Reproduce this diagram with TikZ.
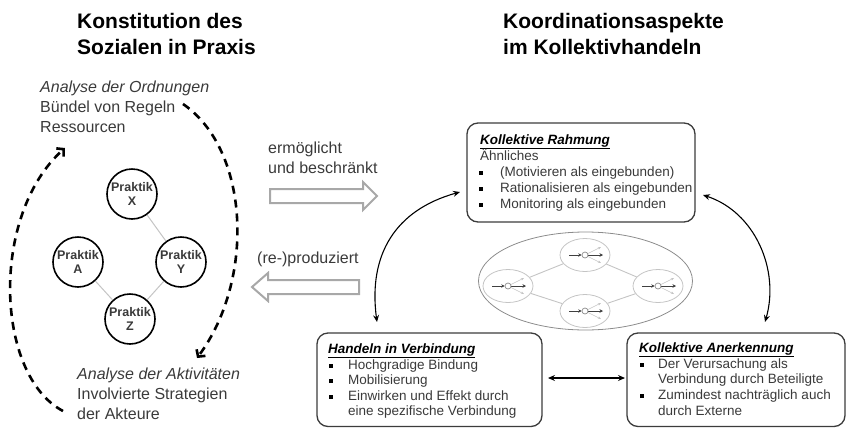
\documentclass[tikz,border=0pt]{standalone}
\usepackage{fontspec}
\setmainfont{Liberation Sans}
\usetikzlibrary{arrows.meta,shapes.geometric}
\definecolor{txt}{HTML}{3A3A3A}
\definecolor{boxline}{HTML}{3C3C3C}
\definecolor{arrgray}{HTML}{A8A8A8}
\definecolor{netgray}{HTML}{8C8C8C}
\definecolor{netlight}{HTML}{C4C4C4}
\begin{document}
\begin{tikzpicture}[x=1pt,y=-1pt,
  title/.style={anchor=base west, inner sep=0, text=black, font=\fontsize{21}{25}\selectfont\bfseries},
  body/.style={anchor=base west, inner sep=0, text=txt, font=\fontsize{16}{20}\selectfont},
  bodyit/.style={body, font=\fontsize{16}{20}\selectfont\itshape},
  btxt/.style={anchor=base west, inner sep=0, text=txt, font=\fontsize{13.5}{16}\selectfont},
  btitle/.style={anchor=base west, inner sep=0, text=black, font=\fontsize{13.5}{16}\selectfont\bfseries\itshape},
  bul/.style={anchor=base, inner sep=0, text=black},
  praktik/.style={circle, draw=black, line width=1.6pt, minimum size=50pt, inner sep=0pt, align=center, text=txt, font=\fontsize{12.5}{14}\selectfont\bfseries},
  rbox/.style={draw=boxline, line width=1.3pt, rounded corners=11pt, fill=white},
  dasharc/.style={line width=2.6pt, dash pattern=on 8pt off 6pt, -{Straight Barb[length=5pt,width=11pt]}},
  blockarrow/.style={draw=arrgray, line width=2pt, fill=white, line join=miter},
  link/.style={line width=1.1pt, {Stealth[length=7pt,width=6pt,inset=2.5pt]}-{Stealth[length=7pt,width=6pt,inset=2.5pt]}},
  smallell/.style={ellipse, draw=netlight, line width=0.8pt, minimum width=50pt, minimum height=33pt, inner sep=0pt}
]
\useasboundingbox (0,0) rectangle (849,429);

% titles
\node[title] (t1a) at (77,28) {Konstitution des};
\node[title] (t1b) at (77,54) {Sozialen in Praxis};
\node[title] (t2a) at (503,28) {Koordinationsaspekte};
\node[title] (t2b) at (503,54) {im Kollektivhandeln};

% left texts
\node[bodyit] (o1) at (40,92) {Analyse der Ordnungen};
\node[body] (o2) at (40,112) {Bündel von Regeln};
\node[body] (o3) at (40,132) {Ressourcen};
\node[bodyit] (a1) at (77,379) {Analyse der Aktivitäten};
\node[body] (a2) at (77,399) {Involvierte Strategien};
\node[body] (a3) at (77,419) {der Akteure};

% dashed arcs
\draw[dasharc] (63,411) .. controls (-5,375) and (-10,215) .. (65,148);
\draw[dasharc] (183,104) .. controls (250,150) and (255,280) .. (197,358);

% Praktik circles
\node[praktik] (px) at (132,194) {Praktik\\X};
\node[praktik] (pa) at (78,262) {Praktik\\A};
\node[praktik] (py) at (181,262) {Praktik\\Y};
\node[praktik] (pz) at (130,319) {Praktik\\Z};
\draw[netlight, line width=1pt] (px) -- (py);
\draw[netlight, line width=1pt] (pa) -- (pz);
\draw[netlight, line width=1pt] (py) -- (pz);

% middle labels and block arrows
\node[body] (m1) at (268,153) {ermöglicht};
\node[body] (m2) at (268,173) {und beschränkt};
\node[body] (m3) at (257,263) {(re-)produziert};
\draw[blockarrow] (270,189) -- (363,189) -- (363,182) -- (377,196) -- (363,210) -- (363,203) -- (270,203) -- cycle;
\draw[blockarrow] (359,280) -- (268,280) -- (268,273) -- (252,287) -- (268,301) -- (268,294) -- (359,294) -- cycle;

% boxes
\draw[rbox] (467,123) rectangle (695,222);
\node[inner sep=0, minimum width=228pt, minimum height=99pt] (rahm) at (581,172.5) {};
\draw[rbox] (317,333) rectangle (542,426.5);
\node[inner sep=0, minimum width=225pt, minimum height=93pt] (hand) at (429.5,380) {};
\draw[rbox] (627,333) rectangle (845,426.5);
\node[inner sep=0, minimum width=218pt, minimum height=93pt] (aner) at (736,380) {};

% Rahmung text
\node[btitle] (r0) at (480,144) {\underline{Kollektive Rahmung}};
\node[btxt] (r1) at (480,160) {Ähnliches};
\node[bul] (rb2) at (481,176) {\rule[1.5pt]{4pt}{4pt}};
\node[btxt] (r2) at (500,176) {(Motivieren als eingebunden)};
\node[bul] (rb3) at (481,192) {\rule[1.5pt]{4pt}{4pt}};
\node[btxt] (r3) at (500,192) {Rationalisieren als eingebunden};
\node[bul] (rb4) at (481,208) {\rule[1.5pt]{4pt}{4pt}};
\node[btxt] (r4) at (500,208) {Monitoring als eingebunden};

% Handeln text
\node[btitle] (h0) at (328,353) {\underline{Handeln in Verbindung}};
\node[bul] (hb1) at (331,369) {\rule[1.5pt]{4pt}{4pt}};
\node[btxt] (h1) at (348,369) {Hochgradige Bindung};
\node[bul] (hb2) at (331,384.5) {\rule[1.5pt]{4pt}{4pt}};
\node[btxt] (h2) at (348,384.5) {Mobilisierung};
\node[bul] (hb3) at (331,400) {\rule[1.5pt]{4pt}{4pt}};
\node[btxt] (h3) at (348,400) {Einwirken und Effekt durch};
\node[btxt] (h4) at (348,415.5) {eine spezifische Verbindung};

% Anerkennung text
\node[btitle] (k0) at (639,352) {\underline{Kollektive Anerkennung}};
\node[bul] (kb1) at (642,368) {\rule[1.5pt]{4pt}{4pt}};
\node[btxt] (k1) at (658,368) {Der Verursachung als};
\node[btxt] (k2) at (658,383.5) {Verbindung durch Beteiligte};
\node[bul] (kb3) at (642,399.5) {\rule[1.5pt]{4pt}{4pt}};
\node[btxt] (k3) at (658,399.5) {Zumindest nachträglich auch};
\node[btxt] (k4) at (658,415) {durch Externe};

% network ellipse
\node[ellipse, draw=netgray, line width=0.8pt, minimum width=214pt, minimum height=98pt] (net) at (585.5,281) {};
\node[smallell] (nl) at (508,286) {};
\node[smallell] (nt) at (585,255) {};
\node[smallell] (nb) at (585,311) {};
\node[smallell] (nr) at (658,286) {};
\draw[netlight, line width=0.9pt] (nl) -- (nt);
\draw[netlight, line width=0.9pt] (nl) -- (nb);
\draw[netlight, line width=0.9pt] (nt) -- (nr);
\draw[netlight, line width=0.9pt] (nb) -- (nr);
\foreach \c in {nl,nt,nb,nr}{
  \draw[netlight, line width=0.6pt, -{Stealth[length=3pt,width=2.5pt]}] ([shift={(3,-1.5)}]\c.center) -- ([shift={(16,-8)}]\c.center);
  \draw[netlight, line width=0.6pt, -{Stealth[length=3pt,width=2.5pt]}] ([shift={(3,1.5)}]\c.center) -- ([shift={(16,8)}]\c.center);
  \draw[black!75, line width=0.9pt, -{Stealth[length=3.5pt,width=3.5pt]}] ([shift={(-16,0)}]\c.center) -- ([shift={(-3.3,0)}]\c.center);
  \draw[black!75, line width=0.9pt, -{Stealth[length=3.5pt,width=3.5pt]}] ([shift={(3.3,0)}]\c.center) -- ([shift={(18,0)}]\c.center);
  \draw[netgray, line width=0.7pt, fill=white] (\c.center) circle (3pt);
}

% curved connectors
\coordinate (c1) at (460,192);
\coordinate (c2) at (377,322);
\coordinate (c3) at (703,195);
\coordinate (c4) at (765,322);
\coordinate (c5) at (548,378);
\coordinate (c6) at (625,378);
\draw[link] (c2) .. controls (368,255) and (395,210) .. (c1);
\draw[link] (c3) .. controls (755,212) and (780,270) .. (c4);
\draw[link] (c5) -- (c6);
\end{tikzpicture}
\end{document}
